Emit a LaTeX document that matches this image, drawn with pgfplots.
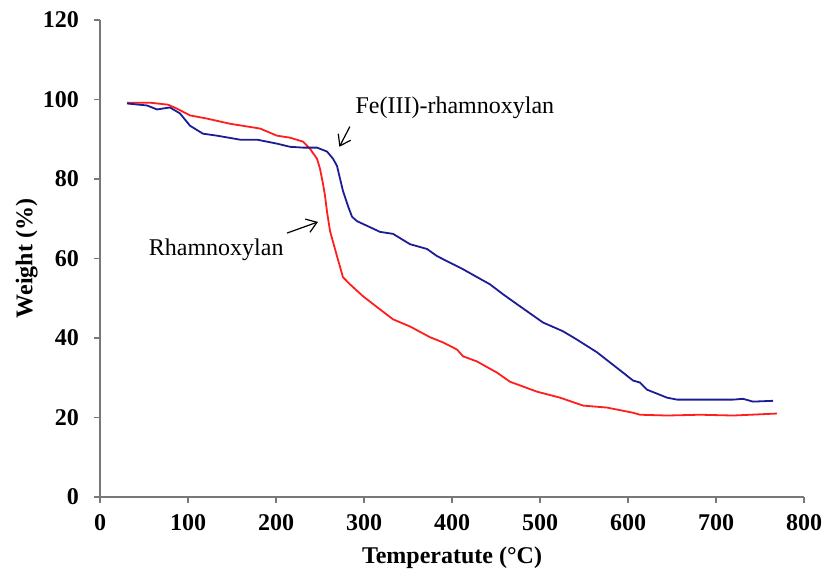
\documentclass[border=0pt]{standalone}
\usepackage{fontspec}
\setmainfont{Liberation Serif}
\usepackage{pgfplots}
\pgfplotsset{compat=1.18}
\usetikzlibrary{arrows.meta,calc}

\definecolor{feblue}{RGB}{28,28,150}
\definecolor{rhred}{RGB}{255,30,30}
\definecolor{axgray}{RGB}{120,120,120}

\begin{document}
\begin{tikzpicture}
\begin{axis}[
  scale only axis, width=352pt, height=238.5pt,
  xmin=0, xmax=800, ymin=0, ymax=120,
  xtick distance=100, ytick distance=20,
  axis lines*=left,
  axis line style={axgray, line width=1.1pt},
  tick style={axgray, line width=0.8pt},
  tick align=outside, major tick length=3pt,
  /pgf/number format/assume math mode=true,
  tick label style={font=\fontsize{12}{14}\selectfont\bfseries},
  xticklabel style={yshift=-2pt},
  yticklabel style={xshift=-4pt},
  label style={font=\fontsize{12}{14}\selectfont\bfseries},
  xlabel={Temperatute (°C)},
  ylabel={Weight (\%)},
  xlabel style={at={(axis description cs:0.5,-0.128)}, anchor=center},
  ylabel style={at={(axis description cs:-0.104,0.5)}, anchor=center},
  clip=false,
]
% Rhamnoxylan
\addplot[rhred, line width=0.9pt] coordinates {
(30.7,99.2) (56.8,99.2) (77.3,98.7) (87.5,97.7) (102.3,96.0) (121.6,95.2)
(147.7,93.9) (181.8,92.7) (201.1,90.9) (215.9,90.4) (230.7,89.4) (238.6,87.6)
(246.6,85.1) (250,82.6) (253.4,78.8) (255.7,75.8) (258,71.7) (261.4,66.9)
(269.3,60.6) (276.1,55.3) (284.1,53.5) (298.9,50.5) (318.2,47.2) (333,44.7)
(352.3,42.9) (375,40.2) (389.8,38.9) (405.7,37.1) (412.5,35.4) (428.4,34.1)
(451.1,31.3) (465.9,29.0) (496.6,26.5) (522.7,25.0) (548.9,23.0) (576.1,22.5)
(605.7,21.2) (613.6,20.7) (644.3,20.5) (681.8,20.7) (719.3,20.5) (769.3,21.0)
};
% Fe(III)-rhamnoxylan
\addplot[feblue, line width=0.9pt] coordinates {
(30.7,99.0) (53.4,98.5) (64.8,97.5) (79.5,98.0) (90.9,96.5) (102.3,93.4)
(117,91.4) (133,90.9) (159.1,89.9) (178.4,89.9) (201.1,88.9) (215.9,88.1)
(230.7,87.9) (246.6,87.9) (258,86.9) (264.8,85.1) (269.3,83.3) (276.1,77.0)
(281.8,73.2) (286.4,70.5) (292,69.4) (318.2,66.7) (333,66.2) (352.3,63.6)
(371.6,62.4) (383,60.6) (412.5,57.3) (443.2,53.5) (458,51.0) (473.9,48.5)
(503.4,43.9) (526.1,41.7) (542,39.6) (564.8,36.4) (594.3,31.3) (605.7,29.3)
(613.6,28.8) (621.6,27.0) (644.3,25.0) (655.7,24.5) (719.3,24.5) (730.7,24.7)
(742,24.0) (764.8,24.2)
};
\node[anchor=west, font=\fontsize{12}{14}\selectfont, inner sep=0pt] at (axis cs:290,98.0) {Fe(III)-rhamnoxylan};
\draw[-{Straight Barb[length=5pt,width=7pt]}, line width=0.6pt] (axis cs:284,93.2) -- (axis cs:272,88.1);
\node[anchor=center, font=\fontsize{12}{14}\selectfont, inner sep=0pt] at (axis cs:132,62.3) {Rhamnoxylan};
\draw[-{Straight Barb[length=5pt,width=7pt]}, line width=0.6pt] (axis cs:212.5,66.4) -- (axis cs:247.7,69.2);
\end{axis}
\pgfresetboundingbox
\path ($(current axis.south west)+(-50pt,-38.5pt)$) rectangle ($(current axis.north east)+(10pt,10pt)$);
\end{tikzpicture}
\end{document}
